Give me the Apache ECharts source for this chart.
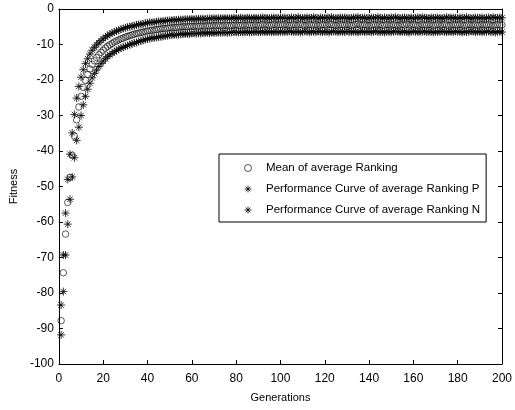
<!DOCTYPE html>
<html>
<head>
<meta charset="utf-8">
<script src="https://cdn.jsdelivr.net/npm/echarts@6/dist/echarts.min.js"></script>
<style>html,body{margin:0;padding:0;background:#fff;}#chart{width:515px;height:410px;}</style>
</head>
<body>
<div id="chart"></div>
<script>
// Generations 1..200
const generations = Array.from({length: 200}, (_, i) => i + 1);

const seriesNames = ['Mean of average Ranking', 'Performance Curve of average Ranking P', 'Performance Curve of average Ranking N'];

const meanRanking = [
-87.8,-74.3,-63.4,-54.5,-47.4,-41.2,-35.8,-31.2,-27.6,-24.6,
-22.1,-20.1,-18.4,-16.9,-15.6,-14.6,-13.7,-12.9,-12.2,-11.6,
-11.0,-10.5,-10.1,-9.7,-9.3,-9.0,-8.7,-8.4,-8.2,-7.9,
-7.7,-7.5,-7.3,-7.1,-6.9,-6.8,-6.6,-6.5,-6.3,-6.2,
-6.1,-6.0,-5.9,-5.8,-5.7,-5.6,-5.5,-5.5,-5.4,-5.3,
-5.3,-5.2,-5.2,-5.1,-5.1,-5.0,-5.0,-5.0,-4.9,-4.9,
-4.9,-4.8,-4.9,-4.8,-4.8,-4.8,-4.7,-4.8,-4.7,-4.7,
-4.7,-4.6,-4.7,-4.7,-4.6,-4.6,-4.7,-4.6,-4.6,-4.5,
-4.6,-4.6,-4.5,-4.6,-4.5,-4.5,-4.6,-4.5,-4.5,-4.6,
-4.5,-4.4,-4.5,-4.5,-4.6,-4.5,-4.4,-4.5,-4.5,-4.4,
-4.5,-4.4,-4.5,-4.6,-4.5,-4.4,-4.5,-4.5,-4.3,-4.5,
-4.6,-4.5,-4.4,-4.5,-4.5,-4.4,-4.6,-4.5,-4.4,-4.5,
-4.5,-4.3,-4.4,-4.5,-4.6,-4.5,-4.4,-4.5,-4.5,-4.4,
-4.5,-4.6,-4.5,-4.4,-4.3,-4.5,-4.5,-4.4,-4.5,-4.6,
-4.5,-4.4,-4.5,-4.5,-4.4,-4.6,-4.5,-4.4,-4.5,-4.5,
-4.4,-4.5,-4.6,-4.5,-4.4,-4.5,-4.3,-4.5,-4.5,-4.4,
-4.5,-4.6,-4.5,-4.4,-4.5,-4.5,-4.4,-4.5,-4.6,-4.5,
-4.4,-4.5,-4.5,-4.3,-4.5,-4.6,-4.5,-4.4,-4.5,-4.5,
-4.4,-4.5,-4.6,-4.5,-4.4,-4.5,-4.5,-4.4,-4.6,-4.5,
-4.4,-4.5,-4.5,-4.4,-4.5,-4.6,-4.5,-4.4,-4.5,-4.5
];

const rankingP = [
-83.4,-69.3,-57.5,-48.0,-40.9,-34.9,-29.7,-25.1,-21.8,-19.2,
-17.1,-15.4,-14.0,-12.7,-11.6,-10.8,-10.1,-9.5,-8.9,-8.4,
-7.9,-7.5,-7.1,-6.8,-6.5,-6.2,-6.0,-5.7,-5.5,-5.3,
-5.1,-5.0,-4.8,-4.7,-4.5,-4.4,-4.3,-4.2,-4.0,-3.9,
-3.8,-3.8,-3.7,-3.6,-3.5,-3.5,-3.4,-3.3,-3.3,-3.2,
-3.2,-3.1,-3.1,-3.0,-3.0,-3.0,-2.9,-2.9,-2.9,-2.8,
-2.9,-2.8,-2.8,-2.8,-2.7,-2.8,-2.7,-2.7,-2.7,-2.6,
-2.7,-2.6,-2.7,-2.6,-2.6,-2.6,-2.7,-2.6,-2.5,-2.6,
-2.6,-2.5,-2.6,-2.6,-2.5,-2.5,-2.6,-2.5,-2.5,-2.6,
-2.5,-2.4,-2.5,-2.5,-2.6,-2.5,-2.4,-2.5,-2.5,-2.4,
-2.5,-2.4,-2.6,-2.5,-2.4,-2.5,-2.5,-2.3,-2.5,-2.6,
-2.5,-2.4,-2.5,-2.5,-2.3,-2.5,-2.6,-2.4,-2.5,-2.5,
-2.4,-2.5,-2.3,-2.5,-2.6,-2.5,-2.4,-2.5,-2.4,-2.5,
-2.6,-2.5,-2.4,-2.5,-2.3,-2.5,-2.5,-2.4,-2.6,-2.5,
-2.4,-2.5,-2.5,-2.3,-2.5,-2.6,-2.4,-2.5,-2.5,-2.4,
-2.5,-2.3,-2.5,-2.6,-2.5,-2.4,-2.5,-2.5,-2.4,-2.6,
-2.5,-2.4,-2.5,-2.3,-2.5,-2.5,-2.6,-2.4,-2.5,-2.5,
-2.4,-2.5,-2.6,-2.5,-2.3,-2.5,-2.4,-2.5,-2.5,-2.6,
-2.4,-2.5,-2.5,-2.3,-2.5,-2.6,-2.5,-2.4,-2.5,-2.5,
-2.4,-2.6,-2.5,-2.4,-2.5,-2.3,-2.5,-2.5,-2.4,-2.5
];

const rankingN = [
-91.8,-79.6,-69.3,-60.6,-53.6,-47.3,-41.9,-37.0,-33.3,-30.0,
-27.0,-24.6,-22.6,-20.9,-19.4,-18.2,-17.2,-16.2,-15.4,-14.7,
-14.0,-13.4,-12.9,-12.5,-12.0,-11.7,-11.3,-11.0,-10.8,-10.5,
-10.3,-10.0,-9.8,-9.6,-9.4,-9.2,-9.0,-8.8,-8.6,-8.5,
-8.3,-8.2,-8.1,-8.0,-7.9,-7.8,-7.7,-7.6,-7.5,-7.4,
-7.3,-7.3,-7.2,-7.2,-7.1,-7.1,-7.0,-7.0,-7.0,-6.9,
-6.9,-6.9,-6.8,-6.9,-6.8,-6.8,-6.7,-6.8,-6.7,-6.7,
-6.7,-6.6,-6.7,-6.6,-6.6,-6.7,-6.6,-6.6,-6.5,-6.6,
-6.6,-6.5,-6.6,-6.5,-6.5,-6.6,-6.5,-6.5,-6.4,-6.5,
-6.5,-6.4,-6.5,-6.5,-6.4,-6.5,-6.5,-6.4,-6.5,-6.4,
-6.4,-6.5,-6.4,-6.3,-6.4,-6.5,-6.4,-6.4,-6.6,-6.4,
-6.3,-6.4,-6.5,-6.4,-6.4,-6.5,-6.3,-6.4,-6.5,-6.4,
-6.4,-6.6,-6.4,-6.3,-6.4,-6.5,-6.4,-6.4,-6.5,-6.3,
-6.4,-6.5,-6.4,-6.4,-6.6,-6.4,-6.3,-6.5,-6.4,-6.4,
-6.5,-6.4,-6.3,-6.4,-6.5,-6.4,-6.6,-6.4,-6.4,-6.5,
-6.4,-6.3,-6.4,-6.5,-6.4,-6.4,-6.5,-6.6,-6.4,-6.3,
-6.4,-6.5,-6.4,-6.4,-6.3,-6.5,-6.4,-6.4,-6.6,-6.4,
-6.5,-6.4,-6.3,-6.4,-6.5,-6.4,-6.4,-6.5,-6.3,-6.4,
-6.4,-6.6,-6.4,-6.5,-6.4,-6.3,-6.4,-6.5,-6.4,-6.4,
-6.5,-6.4,-6.4,-6.3,-6.5,-6.4,-6.6,-6.4,-6.4,-6.5
];

const xTicks = { min: 0, max: 200, interval: 20 };
const yTicks = { min: -100, max: 0, interval: 10 };

const FONT = '"Liberation Sans", Arial, Helvetica, sans-serif';
const STAR = 'path://M5,0L5,10M0,5L10,5M1.6,1.6L8.4,8.4M8.4,1.6L1.6,8.4';

const zip = (ys) => generations.map((g, i) => [g, ys[i]]);

const chart = echarts.init(document.getElementById('chart'), null, {renderer: 'canvas'});

const axisCommon = {
  axisLine: {show: true, onZero: false, lineStyle: {color: '#000', width: 1}},
  axisTick: {show: true, inside: true, length: 4, lineStyle: {color: '#000'}},
  splitLine: {show: false},
  axisLabel: {color: '#000', fontFamily: FONT, fontSize: 12}
};

const markerStyle = {color: 'rgba(0,0,0,0)', borderColor: '#000', borderWidth: 1};

chart.setOption({
  animation: false,
  backgroundColor: '#fff',
  grid: {left: 55, right: 9, top: 9, bottom: 46, containLabel: false},
  xAxis: [
    Object.assign({}, axisCommon, {
      type: 'value', position: 'bottom', min: xTicks.min, max: xTicks.max, interval: xTicks.interval,
      name: 'Generations', nameLocation: 'middle', nameGap: 28,
      nameTextStyle: {color: '#000', fontFamily: FONT, fontSize: 11},
      axisLabel: Object.assign({}, axisCommon.axisLabel, {margin: 9})
    }),
    Object.assign({}, axisCommon, {
      type: 'value', position: 'top', min: xTicks.min, max: xTicks.max, interval: xTicks.interval,
      axisLabel: {show: false}
    })
  ],
  yAxis: [
    Object.assign({}, axisCommon, {
      type: 'value', position: 'left', min: yTicks.min, max: yTicks.max, interval: yTicks.interval,
      name: 'Fitness', nameLocation: 'middle', nameGap: 39,
      nameTextStyle: {color: '#000', fontFamily: FONT, fontSize: 11},
      axisLabel: Object.assign({}, axisCommon.axisLabel, {margin: 5})
    }),
    Object.assign({}, axisCommon, {
      type: 'value', position: 'right', min: yTicks.min, max: yTicks.max, interval: yTicks.interval,
      axisLabel: {show: false}
    })
  ],
  legend: {
    orient: 'vertical',
    left: 219, top: 154,
    backgroundColor: '#fff',
    borderColor: '#000', borderWidth: 1, borderRadius: 0,
    padding: [8, 6, 6, 25],
    itemWidth: 26, itemHeight: 7, itemGap: 9,
    itemStyle: {color: 'rgba(0,0,0,0)', borderColor: '#000', borderWidth: 1},
    textStyle: {color: '#000', fontFamily: FONT, fontSize: 11.5},
    data: [
      {name: seriesNames[0], icon: 'circle', itemStyle: {color: 'rgba(0,0,0,0)', borderColor: '#000', borderWidth: 0.8}},
      {name: seriesNames[1], icon: STAR, itemStyle: {color: 'rgba(0,0,0,0)', borderColor: '#000', borderWidth: 1}},
      {name: seriesNames[2], icon: STAR, itemStyle: {color: 'rgba(0,0,0,0)', borderColor: '#000', borderWidth: 1}}
    ]
  },
  series: [
    {
      name: seriesNames[0], type: 'scatter', xAxisIndex: 0, yAxisIndex: 0,
      data: zip(meanRanking), symbol: 'circle', symbolSize: 6.5,
      itemStyle: {color: 'rgba(0,0,0,0)', borderColor: '#000', borderWidth: 0.8}
    },
    {
      name: seriesNames[1], type: 'scatter', xAxisIndex: 0, yAxisIndex: 0,
      data: zip(rankingP), symbol: STAR, symbolSize: 8,
      itemStyle: markerStyle
    },
    {
      name: seriesNames[2], type: 'scatter', xAxisIndex: 0, yAxisIndex: 0,
      data: zip(rankingN), symbol: STAR, symbolSize: 8,
      itemStyle: markerStyle
    }
  ]
});
</script>
</body>
</html>
